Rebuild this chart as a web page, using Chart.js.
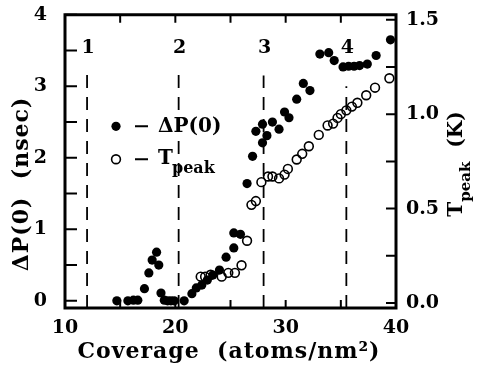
<!DOCTYPE html>
<html>
<head>
<meta charset="utf-8">
<script src="https://cdn.jsdelivr.net/npm/chart.js@4.4.0/dist/chart.umd.min.js"></script>
<style>
    body{ margin:0; background:#fff; }
    #wrap{ width:478px; height:373px; }
</style>
</head>
<body>
<div id="wrap"><canvas id="chart" width="478" height="373"></canvas></div>
<script>

// DATA

const coverageP = [
    14.7, 15.7, 16.2, 16.6, 17.2, 17.6, 17.9, 18.3, 18.5, 18.7,
    19.0, 19.3, 19.6, 19.9, 20.8, 21.5, 21.9, 22.4, 22.9, 23.4,
    24.0, 24.6, 25.3, 25.3, 25.9, 26.5, 27.0, 27.3, 27.9, 27.9,
    28.3, 28.8, 29.4, 29.9, 30.3, 31.0, 31.6, 32.2, 33.1, 33.9,
    34.4, 35.2, 35.7, 36.2, 36.7, 37.4, 38.2, 39.5
];
const deltaP = [
    0.00, 0.00, 0.01, 0.01, 0.17, 0.39, 0.57, 0.68, 0.50, 0.11,
    0.01, 0.00, 0.00, 0.00, 0.00, 0.10, 0.18, 0.22, 0.29, 0.36,
    0.43, 0.61, 0.74, 0.95, 0.93, 1.64, 2.02, 2.37, 2.21, 2.47,
    2.31, 2.50, 2.40, 2.64, 2.56, 2.82, 3.04, 2.94, 3.45, 3.47,
    3.36, 3.27, 3.28, 3.28, 3.29, 3.31, 3.43, 3.65
];

const coverageT = [
    22.3, 22.7, 23.2, 24.2, 24.8, 25.4, 26.0, 26.5, 26.9, 27.3,
    27.8, 28.4, 28.8, 29.4, 29.9, 30.2, 31.0, 31.5, 32.1, 33.0,
    33.8, 34.3, 34.7, 35.0, 35.5, 36.0, 36.5, 37.3, 38.1, 39.4
];
const tPeak = [
    0.14, 0.14, 0.15, 0.14, 0.16, 0.16, 0.20, 0.33, 0.52, 0.54,
    0.64, 0.67, 0.67, 0.66, 0.68, 0.71, 0.76, 0.79, 0.83, 0.89,
    0.94, 0.95, 0.98, 1.00, 1.02, 1.04, 1.06, 1.10, 1.14, 1.19
];

// phase boundaries (dashed lines)
const phaseX = [12.0, 20.3, 28.0, 35.5];
const phaseTop = [3.2, 3.2, 3.15, 3.0];
const phaseNames = ["1", "2", "3", "4"];

const xTicks = [10, 20, 30, 40];
const xMinor = [10, 15, 20, 25, 30, 35, 40];
const leftTicks = [0, 1, 2, 3, 4];
const leftMinor = [0, 0.5, 1, 1.5, 2, 2.5, 3, 3.5, 4];
const rightTicks = [0.0, 0.5, 1.0, 1.5];
const rightMinor = [0, 0.25, 0.5, 0.75, 1.0, 1.25, 1.5];

const FONT = "'DejaVu Serif', serif";

// DATASETS

let datasets = [];

phaseX.forEach((x, i) => {
    datasets.push({
        type: "line",
        data: [{x: x, y: -0.1}, {x: x, y: phaseTop[i]}],
        borderColor: "#000",
        borderWidth: 1.8,
        borderDash: [13, 9],
        pointRadius: 0,
        yAxisID: "y"
    });
});

datasets.push({
    type: "scatter",
    data: coverageP.map((x, i) => ({x: x, y: deltaP[i]})),
    backgroundColor: "#000",
    borderColor: "#000",
    pointRadius: 4.6,
    borderWidth: 0,
    yAxisID: "y"
});

datasets.push({
    type: "scatter",
    data: coverageT.map((x, i) => ({x: x, y: tPeak[i]})),
    backgroundColor: "rgba(0,0,0,0)",
    borderColor: "#000",
    pointRadius: 4.4,
    borderWidth: 1.6,
    yAxisID: "yR"
});

// DECORATION: frame, inward ticks, labels, legend, titles

function setTicks(values){
    return function(scale){
        scale.ticks = values.map(v => ({value: v}));
    };
}

const decor = {
    id: "decor",
    afterDraw(chart){
        let ctx = chart.ctx;
        let a = chart.chartArea;
        let sx = chart.scales.x;
        let sy = chart.scales.y;
        let sr = chart.scales.yR;

        ctx.save();
        ctx.strokeStyle = "#000";
        ctx.fillStyle = "#000";

        // ticks
        ctx.lineWidth = 2;
        ctx.beginPath();
        xMinor.forEach(v => {
            let px = sx.getPixelForValue(v);
            ctx.moveTo(px, a.bottom); ctx.lineTo(px, a.bottom - 8);
            ctx.moveTo(px, a.top); ctx.lineTo(px, a.top + 8);
        });
        leftMinor.forEach(v => {
            let py = sy.getPixelForValue(v);
            ctx.moveTo(a.left, py); ctx.lineTo(a.left + 12, py);
        });
        rightMinor.forEach(v => {
            let py = sr.getPixelForValue(v);
            ctx.moveTo(a.right, py); ctx.lineTo(a.right - 10, py);
        });
        ctx.stroke();

        // frame
        ctx.lineWidth = 3;
        ctx.strokeRect(a.left, a.top, a.right - a.left, a.bottom - a.top);

        // phase numbers
        ctx.font = "bold 19px " + FONT;
        ctx.textAlign = "center";
        ctx.textBaseline = "middle";
        phaseX.forEach((x, i) => {
            ctx.fillText(phaseNames[i], sx.getPixelForValue(x) + 1, sy.getPixelForValue(3.53));
        });

        // legend
        let lx = a.left + 51;
        let ly1 = sy.getPixelForValue(2.44);
        let ly2 = sy.getPixelForValue(1.98);
        ctx.beginPath();
        ctx.arc(lx, ly1, 4.6, 0, Math.PI * 2);
        ctx.fill();
        ctx.lineWidth = 1.6;
        ctx.beginPath();
        ctx.arc(lx, ly2, 4.4, 0, Math.PI * 2);
        ctx.stroke();
        ctx.lineWidth = 2;
        ctx.beginPath();
        ctx.moveTo(lx + 19, ly1); ctx.lineTo(lx + 32, ly1);
        ctx.moveTo(lx + 19, ly2); ctx.lineTo(lx + 32, ly2);
        ctx.stroke();
        ctx.textAlign = "left";
        ctx.font = "bold 20px " + FONT;
        ctx.fillText("\u0394P(0)", lx + 42, ly1);
        ctx.fillText("T", lx + 42, ly2);
        ctx.font = "bold 16px " + FONT;
        ctx.fillText("peak", lx + 56, ly2 + 10);

        // x title
        ctx.font = "bold 22px " + FONT;
        ctx.letterSpacing = "1px";
        ctx.textAlign = "center";
        ctx.fillText("Coverage  (atoms/nm\u00B2)", 229, 352);

        // left title
        ctx.save();
        ctx.translate(22, 184);
        ctx.rotate(-Math.PI / 2);
        ctx.fillText("\u0394P(0)  (nsec)", 0, 0);
        ctx.restore();
        ctx.letterSpacing = "0px";

        // right title with subscript
        ctx.save();
        ctx.translate(457, 164);
        ctx.rotate(-Math.PI / 2);
        ctx.textAlign = "left";
        ctx.font = "bold 20px " + FONT;
        let w1 = ctx.measureText("T").width;
        ctx.font = "bold 15px " + FONT;
        let w2 = ctx.measureText("peak").width;
        ctx.font = "bold 20px " + FONT;
        let w3 = ctx.measureText("  (K)").width;
        let start = -(w1 + w2 + w3) / 2;
        ctx.fillText("T", start, 0);
        ctx.font = "bold 15px " + FONT;
        ctx.fillText("peak", start + w1, 9);
        ctx.font = "bold 20px " + FONT;
        ctx.fillText("  (K)", start + w1 + w2, 0);
        ctx.restore();

        ctx.restore();
    }
};

// CHART

new Chart(document.getElementById("chart"), {
    type: "scatter",
    data: { datasets: datasets },
    options: {
        responsive: false,
        devicePixelRatio: 1,
        animation: false,
        layout: { padding: { top: 13 } },
        plugins: {
            legend: { display: false },
            tooltip: { enabled: false }
        },
        scales: {
            x: {
                type: "linear",
                min: 10,
                max: 40,
                afterBuildTicks: setTicks(xTicks),
                afterFit(scale){ scale.height = 65; },
                grid: { display: false },
                border: { display: false },
                ticks: {
                    padding: 1,
                    color: "#000",
                    font: { family: FONT, size: 19, weight: "bold" }
                }
            },
            y: {
                position: "left",
                min: -0.1,
                max: 4,
                afterBuildTicks: setTicks(leftTicks),
                afterFit(scale){ scale.width = 65; },
                grid: { display: false },
                border: { display: false },
                ticks: {
                    padding: 10,
                    color: "#000",
                    font: { family: FONT, size: 19, weight: "bold", lineHeight: 0.5 }
                }
            },
            yR: {
                position: "right",
                min: -0.026,
                max: 1.526,
                afterBuildTicks: setTicks(rightTicks),
                afterFit(scale){ scale.width = 82; },
                grid: { display: false },
                border: { display: false },
                ticks: {
                    padding: 2,
                    color: "#000",
                    font: { family: FONT, size: 19, weight: "bold", lineHeight: 0.5 },
                    callback: v => v.toFixed(1)
                }
            }
        }
    },
    plugins: [decor]
});

</script>
</body>
</html>
